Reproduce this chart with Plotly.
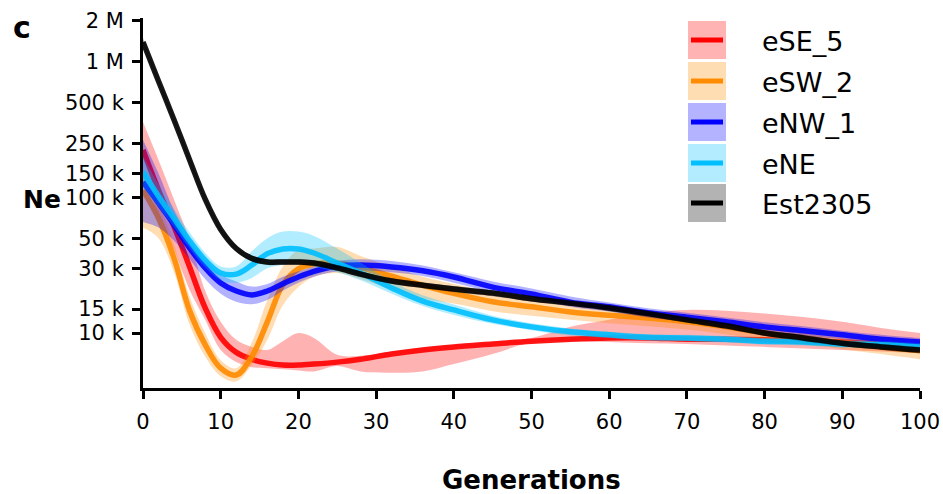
import plotly.graph_objects as go

# ---------------- data (Ne in thousands) ----------------
generations = [0, 2, 4, 6, 8, 10, 12, 14, 16, 18, 20, 22, 25, 28, 32, 36, 40, 45, 50, 55, 60, 65, 70, 75, 80, 85, 90, 95, 100]

eSE_5 = [224, 113, 61, 30.7, 15.3, 9.3, 7.2, 6.4, 6.0, 5.8, 5.8, 5.9, 6.1, 6.4, 7.0, 7.5, 7.9, 8.3, 8.7, 9.0, 9.2, 9.2, 9.0, 9.0, 8.9, 8.7, 8.6, 8.3, 8.0]
eSE_5_hi = [360, 189, 96, 48.5, 20.5, 12.1, 8.9, 7.9, 7.5, 8.7, 10.0, 9.2, 6.9, 6.8, 7.3, 7.8, 8.2, 8.6, 9.2, 11.1, 12.5, 14.1, 14.8, 14.6, 13.9, 13.1, 12.1, 10.9, 10.0]
eSE_5_lo = [150, 74, 41, 20.8, 12.5, 7.5, 6.1, 5.6, 5.5, 5.4, 5.3, 5.2, 5.7, 5.2, 5.1, 5.2, 5.9, 7.0, 8.5, 8.7, 8.6, 8.4, 8.3, 8.1, 7.9, 7.7, 7.5, 7.3, 7.1]

eSW_2 = [113, 70, 35.5, 14.6, 8.2, 5.5, 4.9, 6.7, 12.1, 22.7, 29.7, 32.3, 32.8, 30.2, 26.3, 22.5, 19.6, 17.0, 15.6, 14.3, 13.5, 12.9, 12.1, 11.1, 10.0, 9.2, 8.4, 7.9, 7.4]
eSW_2_hi = [160, 90, 45, 18.5, 10.0, 6.3, 5.5, 8.5, 17.5, 31, 41, 42, 43, 37, 31, 26, 23, 20, 18, 16.2, 15, 14, 13.2, 12.2, 11, 10, 9.2, 8.6, 8.0]
eSW_2_lo = [60, 50, 28, 11.5, 6.7, 4.8, 4.4, 5.8, 8.9, 16, 21.8, 26, 27.7, 25, 21, 18, 16.5, 14.5, 13.4, 12.5, 11.8, 11.2, 10.6, 9.8, 9.0, 8.3, 7.6, 7.0, 6.4]

eNW_1 = [130, 91, 63, 42.4, 30.2, 23.4, 20.4, 19.1, 20.4, 23.1, 25.9, 28.5, 31.2, 31.7, 30.7, 28.8, 25.9, 21.8, 19.4, 16.9, 15.6, 14.1, 13.1, 12.1, 11.1, 10.4, 9.7, 9.0, 8.6]
eNW_1_hi = [265, 150, 80, 50, 35, 27, 24, 22, 23, 26, 28.5, 31, 34, 35, 34, 31.5, 28, 24, 21.3, 18.6, 16.8, 15.2, 14.1, 13.0, 12.0, 11.2, 10.4, 9.7, 9.2]
eNW_1_lo = [66, 60, 48, 35, 25, 19.5, 17, 16.3, 17.5, 20.5, 23.5, 26, 28.5, 29, 28, 26.3, 23.5, 20.0, 18.0, 15.6, 14.4, 13.0, 12.1, 11.2, 10.3, 9.6, 9.0, 8.4, 8.0]

eNE = [154, 102, 70, 47.8, 34.5, 27.7, 27.2, 31.7, 38.5, 41.7, 41.7, 38.9, 32.8, 27.7, 21.5, 17.2, 14.8, 12.5, 11.1, 10.2, 9.7, 9.3, 9.2, 9.0, 8.7, 8.6, 8.3, 8.2, 7.9]
eNE_hi = [200, 125, 82, 55, 39, 31, 31, 40, 50, 56, 56, 52, 42, 33, 24, 19, 16.2, 13.4, 11.8, 10.8, 10.2, 9.8, 9.7, 9.5, 9.2, 9.1, 8.8, 8.7, 8.4]
eNE_lo = [120, 85, 60, 42, 30.5, 24.5, 23.5, 25.5, 30, 32, 33.5, 31, 28, 24.5, 19.5, 15.8, 13.6, 11.7, 10.5, 9.6, 9.2, 8.8, 8.7, 8.5, 8.2, 8.1, 7.8, 7.7, 7.4]

Est2305 = [1400, 720, 372, 189, 97, 58, 42, 35.5, 33.4, 33.4, 33.4, 32.8, 30.2, 27.2, 24.2, 22.5, 21.1, 19.7, 17.9, 16.6, 15.3, 13.9, 12.5, 11.3, 10.0, 9.2, 8.4, 7.9, 7.5]
Est2305_hi = [1500, 760, 392, 200, 102, 61, 44.2, 37.3, 35, 35, 35, 34.5, 31.8, 28.6, 25.4, 23.6, 22.2, 20.7, 18.8, 17.4, 16.1, 14.6, 13.1, 11.9, 10.5, 9.7, 8.8, 8.3, 7.9]
Est2305_lo = [1300, 680, 352, 178, 92, 55, 40, 33.8, 31.8, 31.8, 31.8, 31.2, 28.7, 25.8, 23, 21.4, 20, 18.7, 17, 15.8, 14.5, 13.2, 11.9, 10.7, 9.5, 8.7, 8.0, 7.5, 7.1]

series_names = ["eSE_5", "eSW_2", "eNW_1", "eNE", "Est2305"]
series_mid = [eSE_5, eSW_2, eNW_1, eNE, Est2305]
series_hi = [eSE_5_hi, eSW_2_hi, eNW_1_hi, eNE_hi, Est2305_hi]
series_lo = [eSE_5_lo, eSW_2_lo, eNW_1_lo, eNE_lo, Est2305_lo]

y_tickvals = [10e3, 15e3, 30e3, 50e3, 100e3, 150e3, 250e3, 500e3, 1e6, 2e6]
y_ticktext = ["10 k", "15 k", "30 k", "50 k", "100 k", "150 k", "250 k", "500 k", "1 M", "2 M"]
x_tickvals = [0, 10, 20, 30, 40, 50, 60, 70, 80, 90, 100]

# ---------------- style ----------------
line_colors = ["#FF0000", "#FF8C00", "#0000FF", "#00BFFF", "#000000"]
band_colors = ["rgba(255,0,0,0.3)", "rgba(255,140,0,0.3)", "rgba(0,0,255,0.3)",
               "rgba(0,191,255,0.3)", "rgba(0,0,0,0.3)"]
legend_fill = ["#FFB3B3", "#FFDDB3", "#B3B3FF", "#B3ECFF", "#B3B3B3"]
FONT = "DejaVu Sans"

fig = go.Figure()
for name, mid, hi, lo, lc, bc in zip(series_names, series_mid, series_hi, series_lo, line_colors, band_colors):
    fig.add_trace(go.Scatter(x=generations, y=[v * 1000 for v in lo], mode="lines",
                             line=dict(width=0, shape="spline", color=bc),
                             showlegend=False, hoverinfo="skip"))
    fig.add_trace(go.Scatter(x=generations, y=[v * 1000 for v in hi], mode="lines",
                             line=dict(width=0, shape="spline", color=bc),
                             fill="tonexty", fillcolor=bc, showlegend=False, hoverinfo="skip"))
    fig.add_trace(go.Scatter(x=generations, y=[v * 1000 for v in mid], mode="lines", name=name,
                             line=dict(width=5.5, shape="spline", color=lc), opacity=0.9,
                             showlegend=False))

L, R, T, B = 143, 920, 18, 388
W, H = R - L, B - T
def px(xp):
    return (xp - L) / W
def py(yp):
    return (B - yp) / H

shapes = []
annotations = []
row_tops = [21, 62, 103, 144, 184]
for top, name, lf, lc in zip(row_tops, series_names, legend_fill, line_colors):
    shapes.append(dict(type="rect", xref="paper", yref="paper",
                       x0=px(688), x1=px(726), y0=py(top + 38), y1=py(top),
                       fillcolor=lf, line=dict(width=0), layer="above"))
    shapes.append(dict(type="line", xref="paper", yref="paper",
                       x0=px(691), x1=px(723), y0=py(top + 19), y1=py(top + 19),
                       line=dict(color=lc, width=5), layer="above"))
    annotations.append(dict(text=name, xref="paper", yref="paper", x=px(760), y=py(top + 20),
                            xanchor="left", yanchor="middle", showarrow=False,
                            font=dict(family=FONT, size=27, color="black")))

annotations.append(dict(text="<b>c</b>", xref="paper", yref="paper", x=px(22), y=py(28),
                        xanchor="center", yanchor="middle", showarrow=False,
                        font=dict(family=FONT, size=30, color="black")))
annotations.append(dict(text="<b>Ne</b>", xref="paper", yref="paper", x=px(42), y=py(199),
                        xanchor="center", yanchor="middle", showarrow=False,
                        font=dict(family=FONT, size=25, color="black")))
annotations.append(dict(text="<b>Generations</b>", xref="paper", yref="paper", x=px(531), y=py(480),
                        xanchor="center", yanchor="middle", showarrow=False,
                        font=dict(family=FONT, size=26, color="black")))

fig.update_layout(
    width=943, height=494,
    margin=dict(l=L, r=943 - R, t=T, b=494 - B, autoexpand=False),
    paper_bgcolor="white", plot_bgcolor="white",
    showlegend=False,
    shapes=shapes, annotations=annotations,
    xaxis=dict(range=[0, 100], tickvals=x_tickvals, ticks="outside", ticklen=8, tickwidth=2.5,
               tickcolor="black", showline=True, linecolor="black", linewidth=3,
               showgrid=False, zeroline=False, automargin=False,
               tickfont=dict(family=FONT, size=21, color="black"), ticklabelstandoff=5),
    yaxis=dict(type="log", range=[3.5945, 6.323], tickvals=y_tickvals, ticktext=y_ticktext,
               ticks="outside", ticklen=8, tickwidth=2.5, tickcolor="black",
               showline=True, linecolor="black", linewidth=3,
               showgrid=False, zeroline=False, automargin=False,
               tickfont=dict(family=FONT, size=21, color="black"), ticklabelstandoff=4),
)

fig.write_html("out.html")
